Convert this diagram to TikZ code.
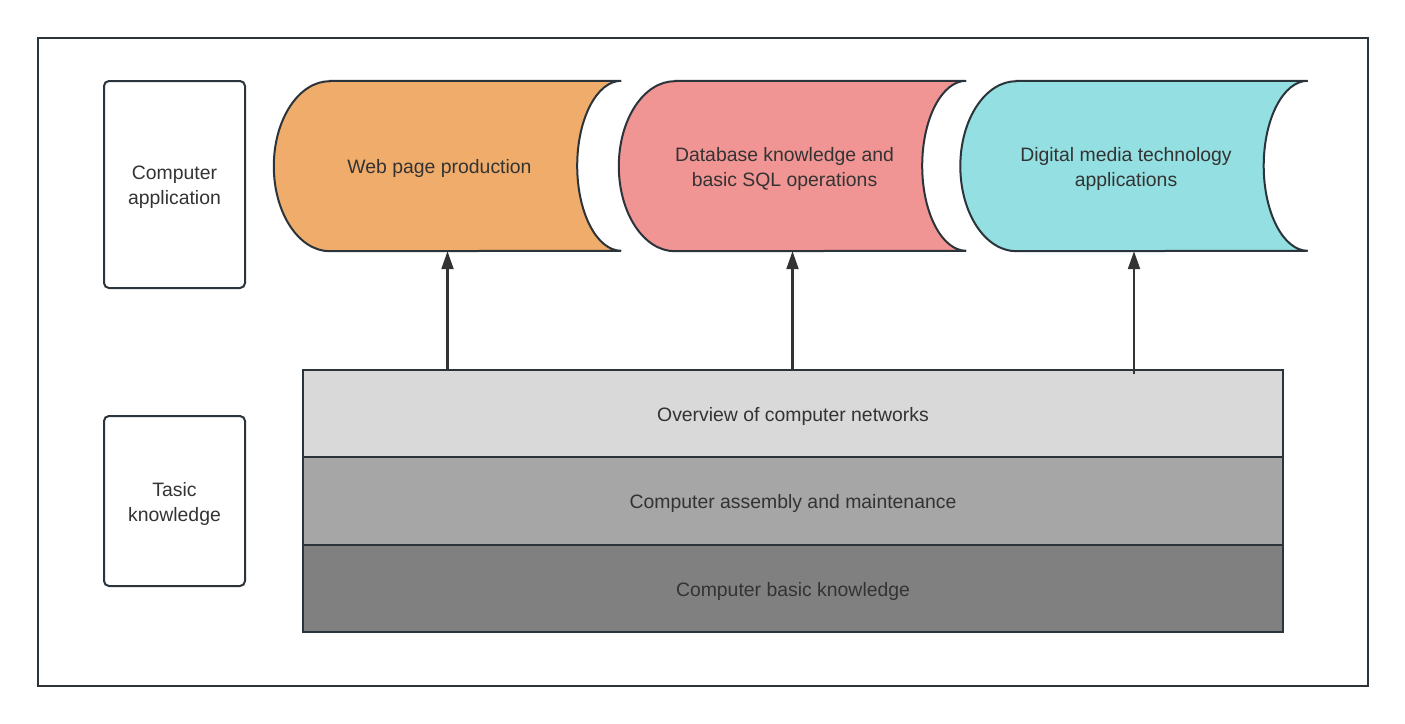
\documentclass[tikz,border=0pt]{standalone}
\usepackage{fontspec}
\setmainfont{Liberation Sans}
\usetikzlibrary{arrows.meta,calc}
\definecolor{strk}{HTML}{2B333B}
\definecolor{txt}{HTML}{333333}
\definecolor{corange}{HTML}{F0AC6A}
\definecolor{cpink}{HTML}{F09594}
\definecolor{ccyan}{HTML}{93DFE1}
\definecolor{lay1}{HTML}{D9D9D9}
\definecolor{lay2}{HTML}{A6A6A6}
\definecolor{lay3}{HTML}{808080}
\newcommand\storeshape[2]{%
  \path[draw=strk, line width=2pt, fill=#2]
    ($(#1.north west)+(56,0)$) -- (#1.north east)
    arc[start angle=270, end angle=90, x radius=44, y radius=85]
    -- ($(#1.south west)+(56,0)$)
    arc[start angle=90, end angle=270, x radius=56, y radius=85]
    -- cycle;}
\begin{document}
\begin{tikzpicture}[x=1pt, y=-1pt,
  lbl/.style={font=\fontsize{19.4}{25}\selectfont, text=txt, align=center, inner sep=0pt},
  sidebox/.style={draw=strk, line width=2pt, rounded corners=5pt, minimum width=141pt, inner sep=0pt},
  layer/.style={draw=strk, line width=2pt, minimum width=980pt, inner sep=0pt},
  storebox/.style={inner sep=0pt, minimum width=347pt, minimum height=170pt},
  arr/.style={draw=txt, line width=2.2pt, -{Triangle[length=18pt, width=12pt]}}]
\useasboundingbox (0,0) rectangle (1405,723);
\node[draw=strk, line width=2pt, minimum width=1330pt, minimum height=648pt, inner sep=0pt] (frame) at (703,362) {};

\node[sidebox, minimum height=207pt] (ca) at (174.5,184.5) {};
\node[sidebox, minimum height=170pt] (tk) at (174.5,501) {};
\node[lbl] (cat) at ([yshift=-2.5pt]ca.center) {Computer\\application};
\node[lbl] (tkt) at ([yshift=-2.5pt]tk.center) {Tasic\\knowledge};

\node[storebox] (web) at (447.5,166) {};
\node[storebox] (db) at (792.5,166) {};
\node[storebox] (dm) at (1134,166) {};
\storeshape{web}{corange}
\storeshape{db}{cpink}
\storeshape{dm}{ccyan}
\node[lbl] (webt) at ([xshift=-8pt, yshift=-2.5pt]web.center) {Web page production};
\node[lbl] (dbt) at ([xshift=-8pt, yshift=-2.5pt]db.center) {Database knowledge and\\basic SQL operations};
\node[lbl] (dmt) at ([xshift=-8pt, yshift=-2.5pt]dm.center) {Digital media technology\\applications};

\node[layer, fill=lay1, minimum height=87pt] (net) at (793,413.5) {};
\node[layer, fill=lay2, minimum height=88pt] (asm) at (793,501) {};
\node[layer, fill=lay3, minimum height=87pt] (bas) at (793,588.5) {};
\node[lbl] (nett) at ([yshift=-2.5pt]net.center) {Overview of computer networks};
\node[lbl] (asmt) at ([yshift=-2.5pt]asm.center) {Computer assembly and maintenance};
\node[lbl] (bast) at ([yshift=-2.5pt]bas.center) {Computer basic knowledge};

\draw[arr] (web.south |- net.north) -- (web.south);
\draw[arr] (db.south |- net.north) -- (db.south);
\draw[arr] ($(dm.south |- net.north)+(0,5)$) -- (dm.south);
\end{tikzpicture}
\end{document}
